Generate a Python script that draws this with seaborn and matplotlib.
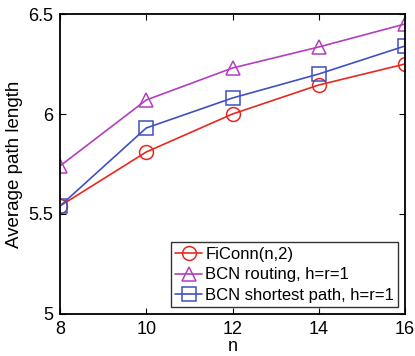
import matplotlib
matplotlib.use("Agg")
import matplotlib.pyplot as plt
import seaborn as sns
import pandas as pd

n_values = [8, 10, 12, 14, 16]
ficonn = [5.54, 5.81, 6.00, 6.145, 6.25]
bcn_routing = [5.74, 6.07, 6.23, 6.335, 6.45]
bcn_shortest = [5.54, 5.93, 6.08, 6.20, 6.34]
series_labels = ["FiConn(n,2)", "BCN routing, h=r=1", "BCN shortest path, h=r=1"]

df = pd.DataFrame({
    "n": n_values * 3,
    "value": ficonn + bcn_routing + bcn_shortest,
    "series": [series_labels[0]] * 5 + [series_labels[1]] * 5 + [series_labels[2]] * 5,
})

sns.set_style("white")
plt.rcParams["font.family"] = ["Liberation Sans", "DejaVu Sans"]
plt.rcParams["text.color"] = "black"
plt.rcParams["axes.labelcolor"] = "black"
plt.rcParams["xtick.color"] = "black"
plt.rcParams["ytick.color"] = "black"

colors = {series_labels[0]: "#e8281e", series_labels[1]: "#b23fbf", series_labels[2]: "#4050bf"}
markers = {series_labels[0]: "o", series_labels[1]: "^", series_labels[2]: "s"}

fig = plt.figure(figsize=(4.15, 3.56), dpi=100)
ax = fig.add_axes([60 / 415, 1 - 314 / 356, 345 / 415, 300 / 356])

sns.lineplot(data=df, x="n", y="value", hue="series", style="series",
             palette=colors, markers=markers, dashes=False, ax=ax,
             markersize=10, markerfacecolor="none", markeredgewidth=1.1,
             linewidth=1.2, legend=False)

# Hollow markers outlined in each line's colour
for line in ax.get_lines():
    line.set_markeredgecolor(line.get_color())

handles = [plt.Line2D([], [], color=colors[s], marker=markers[s], markersize=10,
                      markerfacecolor="none", markeredgewidth=1.1, linewidth=1.2)
           for s in series_labels]
leg = ax.legend(handles, series_labels, loc="lower right", fontsize=12,
                frameon=True, fancybox=False, borderpad=0.25, labelspacing=0.35,
                handlelength=1.6, handletextpad=0.2, borderaxespad=0.4)
leg.get_frame().set_edgecolor("black")
leg.get_frame().set_linewidth(1.0)

ax.set_xlim(8, 16)
ax.set_ylim(5, 6.5)
ax.set_xticks(n_values)
ax.set_yticks([5, 5.5, 6, 6.5])
ax.set_yticklabels(["5", "5.5", "6", "6.5"])
ax.set_xlabel("n", fontsize=13, labelpad=0)
ax.set_ylabel("Average path length", fontsize=13.5, labelpad=4)
ax.tick_params(direction="in", length=4, width=0.8, labelsize=13, top=True, right=True,
               left=True, bottom=True, pad=5)
for sp in ax.spines.values():
    sp.set_visible(True)
    sp.set_color("black")
    sp.set_linewidth(1.3)

fig.savefig("out.png", dpi=100)
